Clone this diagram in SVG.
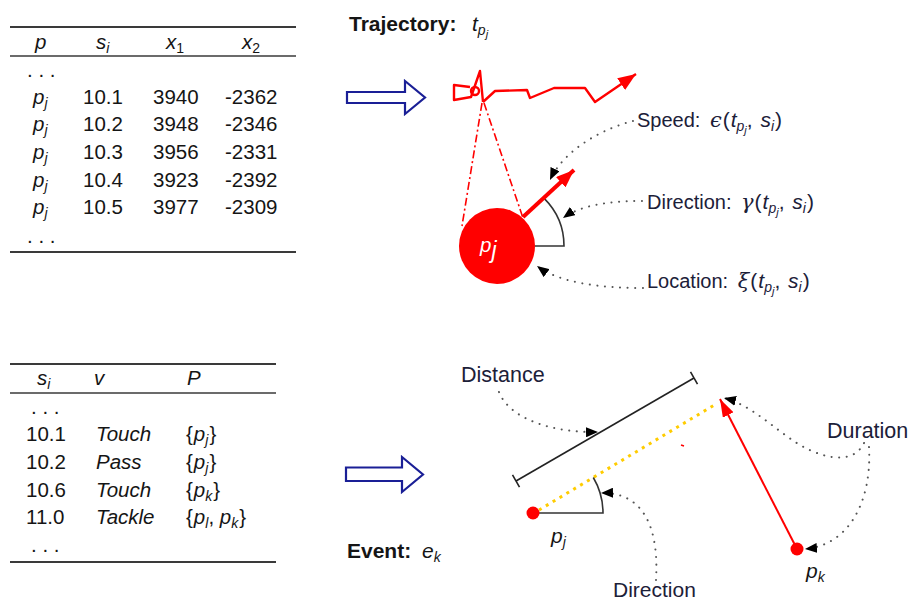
<svg xmlns="http://www.w3.org/2000/svg" width="913" height="603" viewBox="0 0 913 603">
<style>
text{font-family:"Liberation Sans",Arial,sans-serif;font-size:20.5px;fill:#151515}
.lbl{fill:#1c2038;font-size:20px}
.m{font-size:21px}
.it{font-style:italic}
.b{font-weight:bold;font-size:21px}
.gk{font-family:"DejaVu Serif","Liberation Serif",serif;font-style:italic}
.rule{stroke:#3a3a3a;stroke-width:1.8}
.rule2{stroke:#3a3a3a;stroke-width:1.3}
.big{fill:#fff;stroke:#1a1f96;stroke-width:2.2}
.dot{fill:none;stroke:#555;stroke-width:2;stroke-linecap:round;stroke-dasharray:0.1 7.5}
.ang{fill:none;stroke:#333;stroke-width:1.6}
.red{fill:none;stroke:#f00}
</style>
<defs>
<marker id="bk" viewBox="0 0 12 10" refX="12" refY="5" markerWidth="12" markerHeight="10" markerUnits="userSpaceOnUse" orient="auto"><path d="M0,0 L12,5 L0,10 Z" fill="#000"/></marker>
<marker id="rh" viewBox="0 0 18 14" refX="18" refY="7" markerWidth="18" markerHeight="14" markerUnits="userSpaceOnUse" orient="auto"><path d="M0,0 L18,7 L0,14 Z" fill="#f00"/></marker>
<marker id="rh2" viewBox="0 0 18 12" refX="18" refY="6" markerWidth="18" markerHeight="12" markerUnits="userSpaceOnUse" orient="auto"><path d="M0,0 L18,6 L0,12 Z" fill="#f00"/></marker>
</defs>

<g id="table-trajectory">
<line class="rule" x1="10" y1="27" x2="296" y2="27"/>
<line class="rule2" x1="10" y1="56" x2="296" y2="56"/>
<line class="rule" x1="10" y1="252" x2="296" y2="252"/>
<text x="35" y="49" class="it">p</text>
<text x="96" y="49" class="it">s<tspan font-size="14" dy="4">i</tspan></text>
<text x="166" y="49" class="it">x<tspan font-size="14" dy="4" font-style="normal">1</tspan></text>
<text x="242" y="49" class="it">x<tspan font-size="14" dy="4" font-style="normal">2</tspan></text>
<text x="27" y="77">. . .</text>
<text x="33" y="103.5" class="it">p<tspan font-size="14" dy="4">j</tspan></text>
<text x="33" y="131.2" class="it">p<tspan font-size="14" dy="4">j</tspan></text>
<text x="33" y="158.9" class="it">p<tspan font-size="14" dy="4">j</tspan></text>
<text x="33" y="186.6" class="it">p<tspan font-size="14" dy="4">j</tspan></text>
<text x="33" y="214.3" class="it">p<tspan font-size="14" dy="4">j</tspan></text>
<text x="83" y="103.5">10.1</text><text x="153" y="103.5">3940</text><text x="225" y="103.5">-2362</text>
<text x="83" y="131.2">10.2</text><text x="153" y="131.2">3948</text><text x="225" y="131.2">-2346</text>
<text x="83" y="158.9">10.3</text><text x="153" y="158.9">3956</text><text x="225" y="158.9">-2331</text>
<text x="83" y="186.6">10.4</text><text x="153" y="186.6">3923</text><text x="225" y="186.6">-2392</text>
<text x="83" y="214.3">10.5</text><text x="153" y="214.3">3977</text><text x="225" y="214.3">-2309</text>
<text x="27" y="243">. . .</text>
</g>

<g id="table-events">
<line class="rule" x1="10" y1="364" x2="276" y2="364"/>
<line class="rule2" x1="10" y1="393" x2="276" y2="393"/>
<line class="rule" x1="10" y1="562" x2="276" y2="562"/>
<text x="37" y="385" class="it">s<tspan font-size="14" dy="4">i</tspan></text>
<text x="94" y="385" class="it">v</text>
<text x="187" y="385" class="it">P</text>
<text x="31" y="414">. . .</text>
<text x="26" y="441">10.1</text><text x="96" y="441" class="it">Touch</text><text x="186" y="441">{<tspan class="it" dx="1">p</tspan><tspan class="it" font-size="14" dy="4">j</tspan><tspan dy="-4" dx="1">}</tspan></text>
<text x="26" y="468.7">10.2</text><text x="96" y="468.7" class="it">Pass</text><text x="186" y="468.7">{<tspan class="it" dx="1">p</tspan><tspan class="it" font-size="14" dy="4">j</tspan><tspan dy="-4" dx="1">}</tspan></text>
<text x="26" y="496.7">10.6</text><text x="96" y="496.7" class="it">Touch</text><text x="186" y="496.7">{<tspan class="it" dx="1">p</tspan><tspan class="it" font-size="14" dy="4">k</tspan><tspan dy="-4" dx="1">}</tspan></text>
<text x="26" y="524.3">11.0</text><text x="96" y="524.3" class="it">Tackle</text><text x="186" y="524.3">{<tspan class="it" dx="1">p</tspan><tspan class="it" font-size="14" dy="4">l</tspan><tspan dy="-4">, </tspan><tspan class="it">p</tspan><tspan class="it" font-size="14" dy="4">k</tspan><tspan dy="-4" dx="1">}</tspan></text>
<text x="31" y="552">. . .</text>
</g>

<g id="arrow-top"><polygon class="big" points="347,92 405,92 405,81 425,97.5 405,114 405,103 347,103"/></g>
<g id="arrow-bottom"><polygon class="big" points="346,467.5 402,467.5 402,457 423,474.5 402,492 402,481 346,481"/></g>

<g id="title-trajectory"><text x="349" y="31" class="b">Trajectory:</text><text x="472" y="31" class="it m">t<tspan font-size="14" dy="4">p</tspan><tspan font-size="11" dy="3">j</tspan></text></g>
<g id="title-event"><text x="347" y="558" class="b">Event:</text><text x="422" y="558" class="it m">e<tspan font-size="14" dy="4">k</tspan></text></g>

<g id="trajectory">
<path class="red" stroke-width="2.4" stroke-linejoin="round" d="M483,102 L480,71 L471,97 L454,100 L454,85 L470,87"/>
<circle class="red" stroke-width="2.4" cx="475" cy="91" r="4"/>
<path class="red" stroke-width="2.4" stroke-linejoin="round" marker-end="url(#rh)" d="M483,102 L495,91 L527,90 L530,98 L554,88 L585,88 L595,102 L636,74"/>
<line class="red" stroke-width="1.6" stroke-dasharray="8 3 2 3" x1="482" y1="103" x2="462" y2="226"/>
<line class="red" stroke-width="1.6" stroke-dasharray="8 3 2 3" x1="484" y1="103" x2="523" y2="218"/>
</g>

<g id="player-pj">
<circle cx="497" cy="246" r="38" fill="#f00"/>
<text x="480" y="252" class="it" font-size="34" style="fill:#fff">p<tspan font-size="23" dy="6">j</tspan></text>
</g>

<g id="angle-top"><path class="ang" d="M535,246 L564,246 A67,67 0 0 0 544.4,198.6"/></g>

<g id="label-speed"><text x="637" y="127" class="lbl">Speed:  <tspan class="gk m" dx="4">ϵ</tspan><tspan class="m" dx="1">(</tspan><tspan class="it m" dx="1">t</tspan><tspan class="it" font-size="14" dy="4">p</tspan><tspan class="it" font-size="11" dy="3">j</tspan><tspan class="m" dy="-7">, </tspan><tspan class="it m" dx="2">s</tspan><tspan class="it" font-size="14" dy="4">i</tspan><tspan class="m" dy="-4" dx="1">)</tspan></text></g>
<g id="label-direction"><text x="647" y="209" class="lbl">Direction:  <tspan class="gk m" dx="4">γ</tspan><tspan class="m" dx="1">(</tspan><tspan class="it m" dx="1">t</tspan><tspan class="it" font-size="14" dy="4">p</tspan><tspan class="it" font-size="11" dy="3">j</tspan><tspan class="m" dy="-7">, </tspan><tspan class="it m" dx="2">s</tspan><tspan class="it" font-size="14" dy="4">i</tspan><tspan class="m" dy="-4" dx="1">)</tspan></text></g>
<g id="label-location"><text x="647" y="288" class="lbl">Location:  <tspan class="gk m" dx="4">ξ</tspan><tspan class="m" dx="1">(</tspan><tspan class="it m" dx="1">t</tspan><tspan class="it" font-size="14" dy="4">p</tspan><tspan class="it" font-size="11" dy="3">j</tspan><tspan class="m" dy="-7">, </tspan><tspan class="it m" dx="2">s</tspan><tspan class="it" font-size="14" dy="4">i</tspan><tspan class="m" dy="-4" dx="1">)</tspan></text></g>

<g id="event">
<line stroke="#222" stroke-width="1.6" x1="516" y1="481" x2="694" y2="378"/>
<line stroke="#222" stroke-width="1.6" x1="512.5" y1="474.9" x2="519.5" y2="487.1"/>
<line stroke="#222" stroke-width="1.6" x1="690.5" y1="371.9" x2="697.5" y2="384.1"/>
<line stroke="#ffcc00" stroke-width="3" stroke-dasharray="3 5" x1="539" y1="510" x2="716" y2="404"/>
<line stroke="#f00" stroke-width="1.5" x1="681" y1="445" x2="684" y2="446"/>
<path class="ang" d="M533,513 L603,513 A70,70 0 0 0 593.3,477.5"/>
</g>
<g id="player-pj-event"><circle cx="533" cy="513" r="6.5" fill="#f00"/><text x="551" y="543" class="it m">p<tspan font-size="14" dy="4">j</tspan></text></g>
<g id="player-pk"><circle cx="797" cy="549" r="6.5" fill="#f00"/><text x="806" y="578" class="it m">p<tspan font-size="14" dy="4">k</tspan></text></g>

<g id="label-distance"><text x="461" y="382" class="lbl" style="font-size:21.5px">Distance</text></g>
<g id="label-duration"><text x="827" y="438" class="lbl" style="font-size:21.5px">Duration</text></g>
<g id="label-direction-event"><text x="613" y="597" class="lbl" style="font-size:21px">Direction</text></g>

<g id="connectors">
<path class="red" stroke-width="4" marker-end="url(#rh)" d="M523,217 L574,170"/>
<path class="red" stroke-width="2" marker-end="url(#rh2)" d="M797,549 L720,399"/>
<path class="dot" marker-end="url(#bk)" d="M633,121 C605,128 565,148 550,180"/>
<path class="dot" marker-end="url(#bk)" d="M642,201 C605,201 580,206 563,218"/>
<path class="dot" marker-end="url(#bk)" d="M643,288 C600,288 560,283 537,266"/>
<path class="dot" marker-end="url(#bk)" d="M499,392 C510,420 555,433 598,432"/>
<path class="dot" marker-end="url(#bk)" d="M656,580 C659,530 645,492 601,493"/>
<path class="dot" marker-end="url(#bk)" d="M864,443 C855,462 830,462 800,445 C775,430 752,405 724,398"/>
<path class="dot" marker-end="url(#bk)" d="M869,447 C872,500 850,545 805,549"/>
</g>
</svg>
